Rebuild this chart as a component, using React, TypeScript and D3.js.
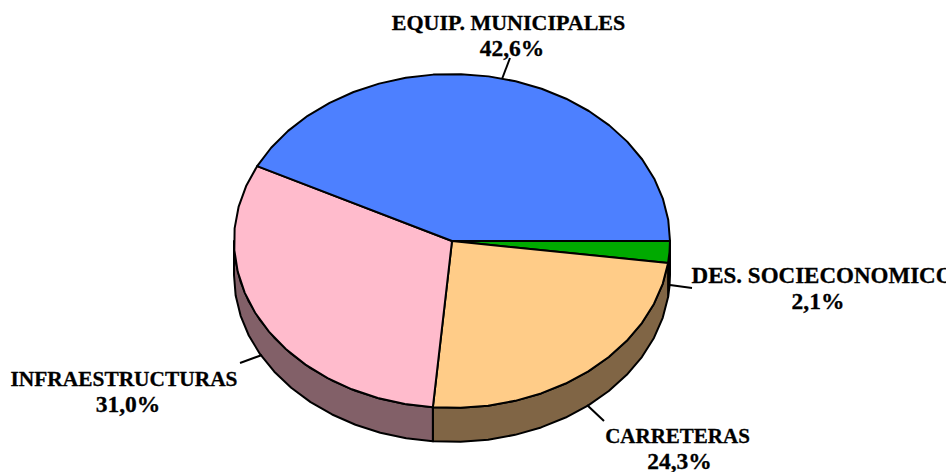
import React from "react";
import * as d3 from "d3";

const categories = ["DES. SOCIECONOMICOS", "CARRETERAS", "INFRAESTRUCTURAS", "EQUIP. MUNICIPALES"];
const values = [2.1, 24.3, 31.0, 42.6];
const valueLabels = ["2,1%", "24,3%", "31,0%", "42,6%"];
const topColors = ["#00aa00", "#ffcc88", "#ffbbcc", "#4d80ff"];
const sideColors = ["#005500", "#806545", "#826068", "#264080"];

const W = 946, H = 472;
const cx = 452, cy = 241, rx = 218, ry = 167, depth = 34;
const xS = d3.scaleLinear().domain([-1, 1]).range([cx - rx, cx + rx]);
const yS = d3.scaleLinear().domain([-1, 1]).range([cy - ry, cy + ry]);

const labelPos: { x: number; vx: number; y: number; fs: number; line: number[] }[] = [
  { x: 829, vx: 818, y: 283, fs: 23, line: [670, 285, 692, 288] },
  { x: 677.5, vx: 679.5, y: 443, fs: 21, line: [587, 405, 604, 421] },
  { x: 124, vx: 128, y: 386, fs: 21.4, line: [262, 355, 240, 363] },
  { x: 508.5, vx: 512, y: 30, fs: 22, line: [502, 79, 510, 58] },
];

const pieGen = d3.pie<number>().sort(null).startAngle(0).endAngle(2 * Math.PI);
const arcs = pieGen(values);
const lineGen = d3.line<[number, number]>();

function samples(a0: number, a1: number): number[] {
  const step = Math.PI / 24;
  const n = Math.max(1, Math.ceil((a1 - a0) / step));
  return d3.range(n + 1).map((i) => a0 + ((a1 - a0) * i) / n);
}
const pt = (a: number, dy = 0): [number, number] => [xS(Math.cos(a)), yS(Math.sin(a)) + dy];

function topPath(a0: number, a1: number) {
  const pts: [number, number][] = [[xS(0), yS(0)], ...samples(a0, a1).map((a) => pt(a))];
  return lineGen(pts) + "Z";
}
function sidePath(a0: number, a1: number) {
  const end = Math.min(a1, Math.PI);
  if (a0 >= end) return null;
  const s = samples(a0, end);
  const pts = [...s.map((a) => pt(a)), ...s.slice().reverse().map((a) => pt(a, depth))];
  return lineGen(pts) + "Z";
}

export default function App() {
  return (
    <svg width={W} height={H} viewBox={`0 0 ${W} ${H}`} style={{ position: "absolute", left: 0, top: 0, background: "#fff" }}>
      {arcs.map((d, i) => {
        const p = sidePath(d.startAngle, d.endAngle);
        return p ? <path key={i} d={p} fill={sideColors[i]} stroke="#000" strokeWidth={2} strokeLinejoin="round" /> : null;
      })}
      {arcs.map((d, i) => (
        <path key={i} d={topPath(d.startAngle, d.endAngle)} fill={topColors[i]} stroke="#000" strokeWidth={2} strokeLinejoin="round" />
      ))}
      {labelPos.map((l, i) => (
        <g key={i}>
          <line x1={l.line[0]} y1={l.line[1]} x2={l.line[2]} y2={l.line[3]} stroke="#000" strokeWidth={2} />
          <text textAnchor="middle" fontFamily="'Liberation Serif', serif" fontWeight="bold" fill="#000" stroke="#000" strokeWidth={0.3}>
            <tspan x={l.x} y={l.y} fontSize={l.fs}>{categories[i]}</tspan>
            <tspan x={l.vx} y={l.y + 26} fontSize={23.5}>{valueLabels[i]}</tspan>
          </text>
        </g>
      ))}
    </svg>
  );
}
